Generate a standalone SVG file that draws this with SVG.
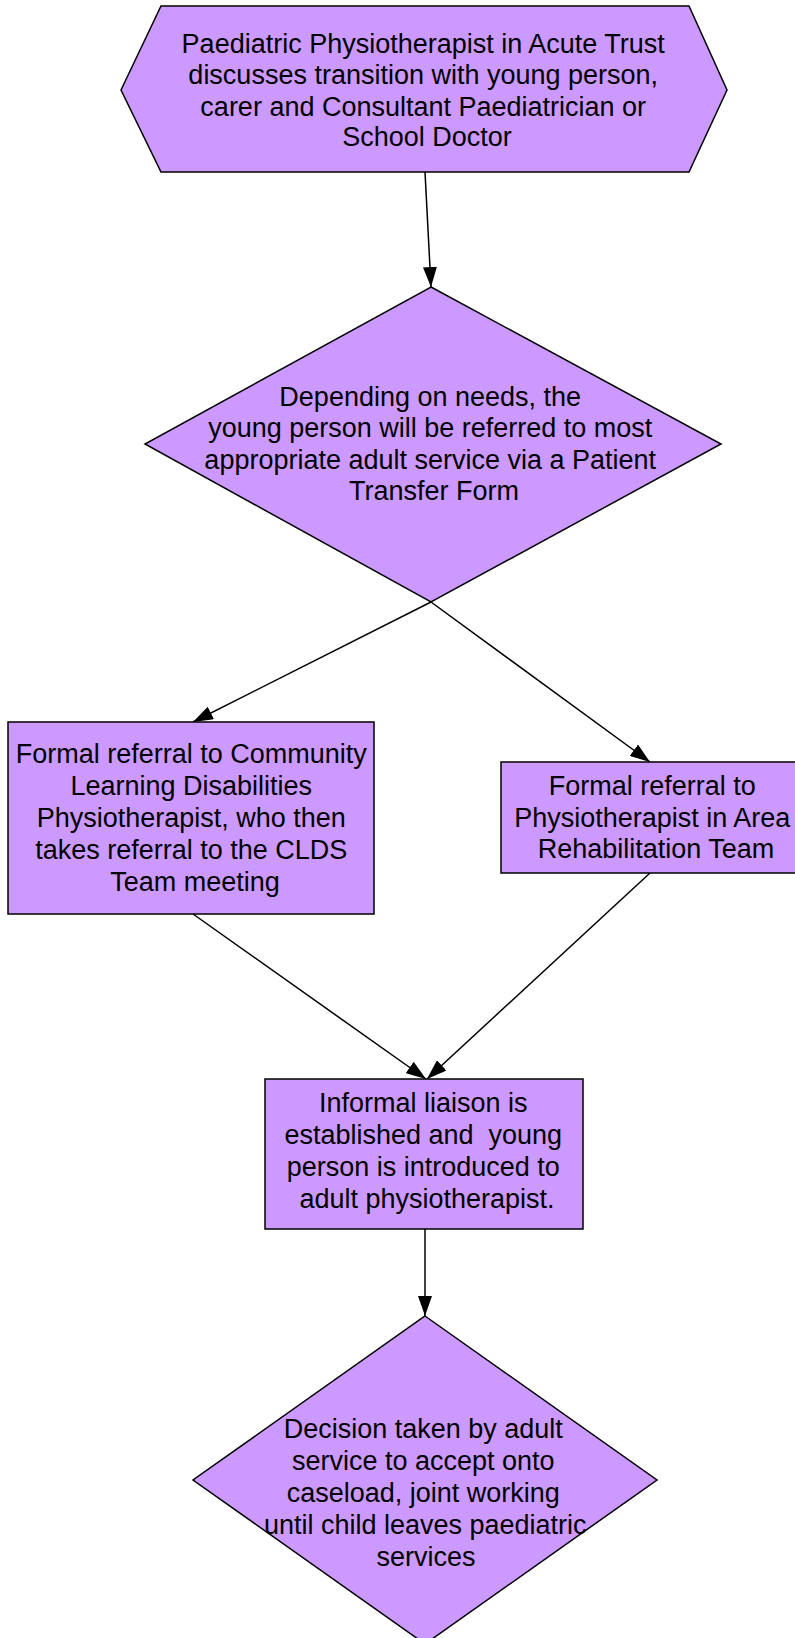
<svg xmlns="http://www.w3.org/2000/svg" width="795" height="1638" viewBox="0 0 795 1638">
  <style>
    .node { fill: #cc99ff; stroke: #000000; stroke-width: 1.5; }
    .label { font-family: "Liberation Sans", Arial, sans-serif; font-size: 27px; fill: #000000; text-anchor: middle; }
    .edge { fill: none; stroke: #000000; stroke-width: 1.5; marker-end: url(#arrow); }
  </style>
  <defs>
    <marker id="arrow" markerUnits="userSpaceOnUse" markerWidth="20" markerHeight="14" refX="20" refY="7" orient="auto">
      <path d="M0,0 L20,7 L0,14 Z" fill="#000000"/>
    </marker>
  </defs>
  <rect width="795" height="1638" fill="#ffffff"/>

  <g id="connectors">
    <line class="edge" x1="425" y1="172" x2="431" y2="287"/>
    <line class="edge" x1="431" y1="602" x2="193" y2="722"/>
    <line class="edge" x1="431" y1="602" x2="650" y2="762"/>
    <line class="edge" x1="193" y1="914" x2="426" y2="1079"/>
    <line class="edge" x1="650" y1="873" x2="427" y2="1079"/>
    <line class="edge" x1="425" y1="1229" x2="425" y2="1316"/>
  </g>

  <g id="start">
    <polygon class="node" points="121,90 161,6 689,6 727,90 689,172 161,172"/>
    <text class="label">
      <tspan x="427" y="53">Paediatric Physiotherapist in Acute Trust</tspan>
      <tspan x="427" y="84">discusses transition with young person,</tspan>
      <tspan x="427" y="116">carer and Consultant Paediatrician or</tspan>
      <tspan x="427" y="146">School Doctor</tspan>
    </text>
  </g>

  <g id="referral-decision">
    <polygon class="node" points="431,287 721,444 431,602 145,444"/>
    <text class="label">
      <tspan x="434" y="406">Depending on needs, the</tspan>
      <tspan x="434" y="437">young person will be referred to most</tspan>
      <tspan x="434" y="469">appropriate adult service via a Patient</tspan>
      <tspan x="434" y="500">Transfer Form</tspan>
    </text>
  </g>

  <g id="clds-referral">
    <rect class="node" x="8" y="722" width="366" height="192"/>
    <text class="label">
      <tspan x="195" y="763">Formal referral to Community</tspan>
      <tspan x="195" y="795">Learning Disabilities</tspan>
      <tspan x="195" y="827">Physiotherapist, who then</tspan>
      <tspan x="195" y="859">takes referral to the CLDS</tspan>
      <tspan x="195" y="891">Team meeting</tspan>
    </text>
  </g>

  <g id="rehab-referral">
    <rect class="node" x="501" y="762" width="306" height="111"/>
    <text class="label">
      <tspan x="656" y="795">Formal referral to</tspan>
      <tspan x="656" y="827">Physiotherapist in Area</tspan>
      <tspan x="656" y="858">Rehabilitation Team</tspan>
    </text>
  </g>

  <g id="liaison">
    <rect class="node" x="265" y="1079" width="318" height="150"/>
    <text class="label">
      <tspan x="427" y="1112">Informal liaison is</tspan>
      <tspan x="427" y="1144">established and&#160; young</tspan>
      <tspan x="427" y="1176">person is introduced to</tspan>
      <tspan x="427" y="1208">adult physiotherapist.</tspan>
    </text>
  </g>

  <g id="acceptance-decision">
    <polygon class="node" points="425,1316 657,1480 425,1644 193,1480"/>
    <text class="label">
      <tspan x="427" y="1438">Decision taken by adult</tspan>
      <tspan x="427" y="1470">service to accept onto</tspan>
      <tspan x="427" y="1502">caseload, joint working</tspan>
      <tspan x="429" y="1534">until child leaves paediatric</tspan>
      <tspan x="426" y="1566">services</tspan>
    </text>
  </g>
</svg>
